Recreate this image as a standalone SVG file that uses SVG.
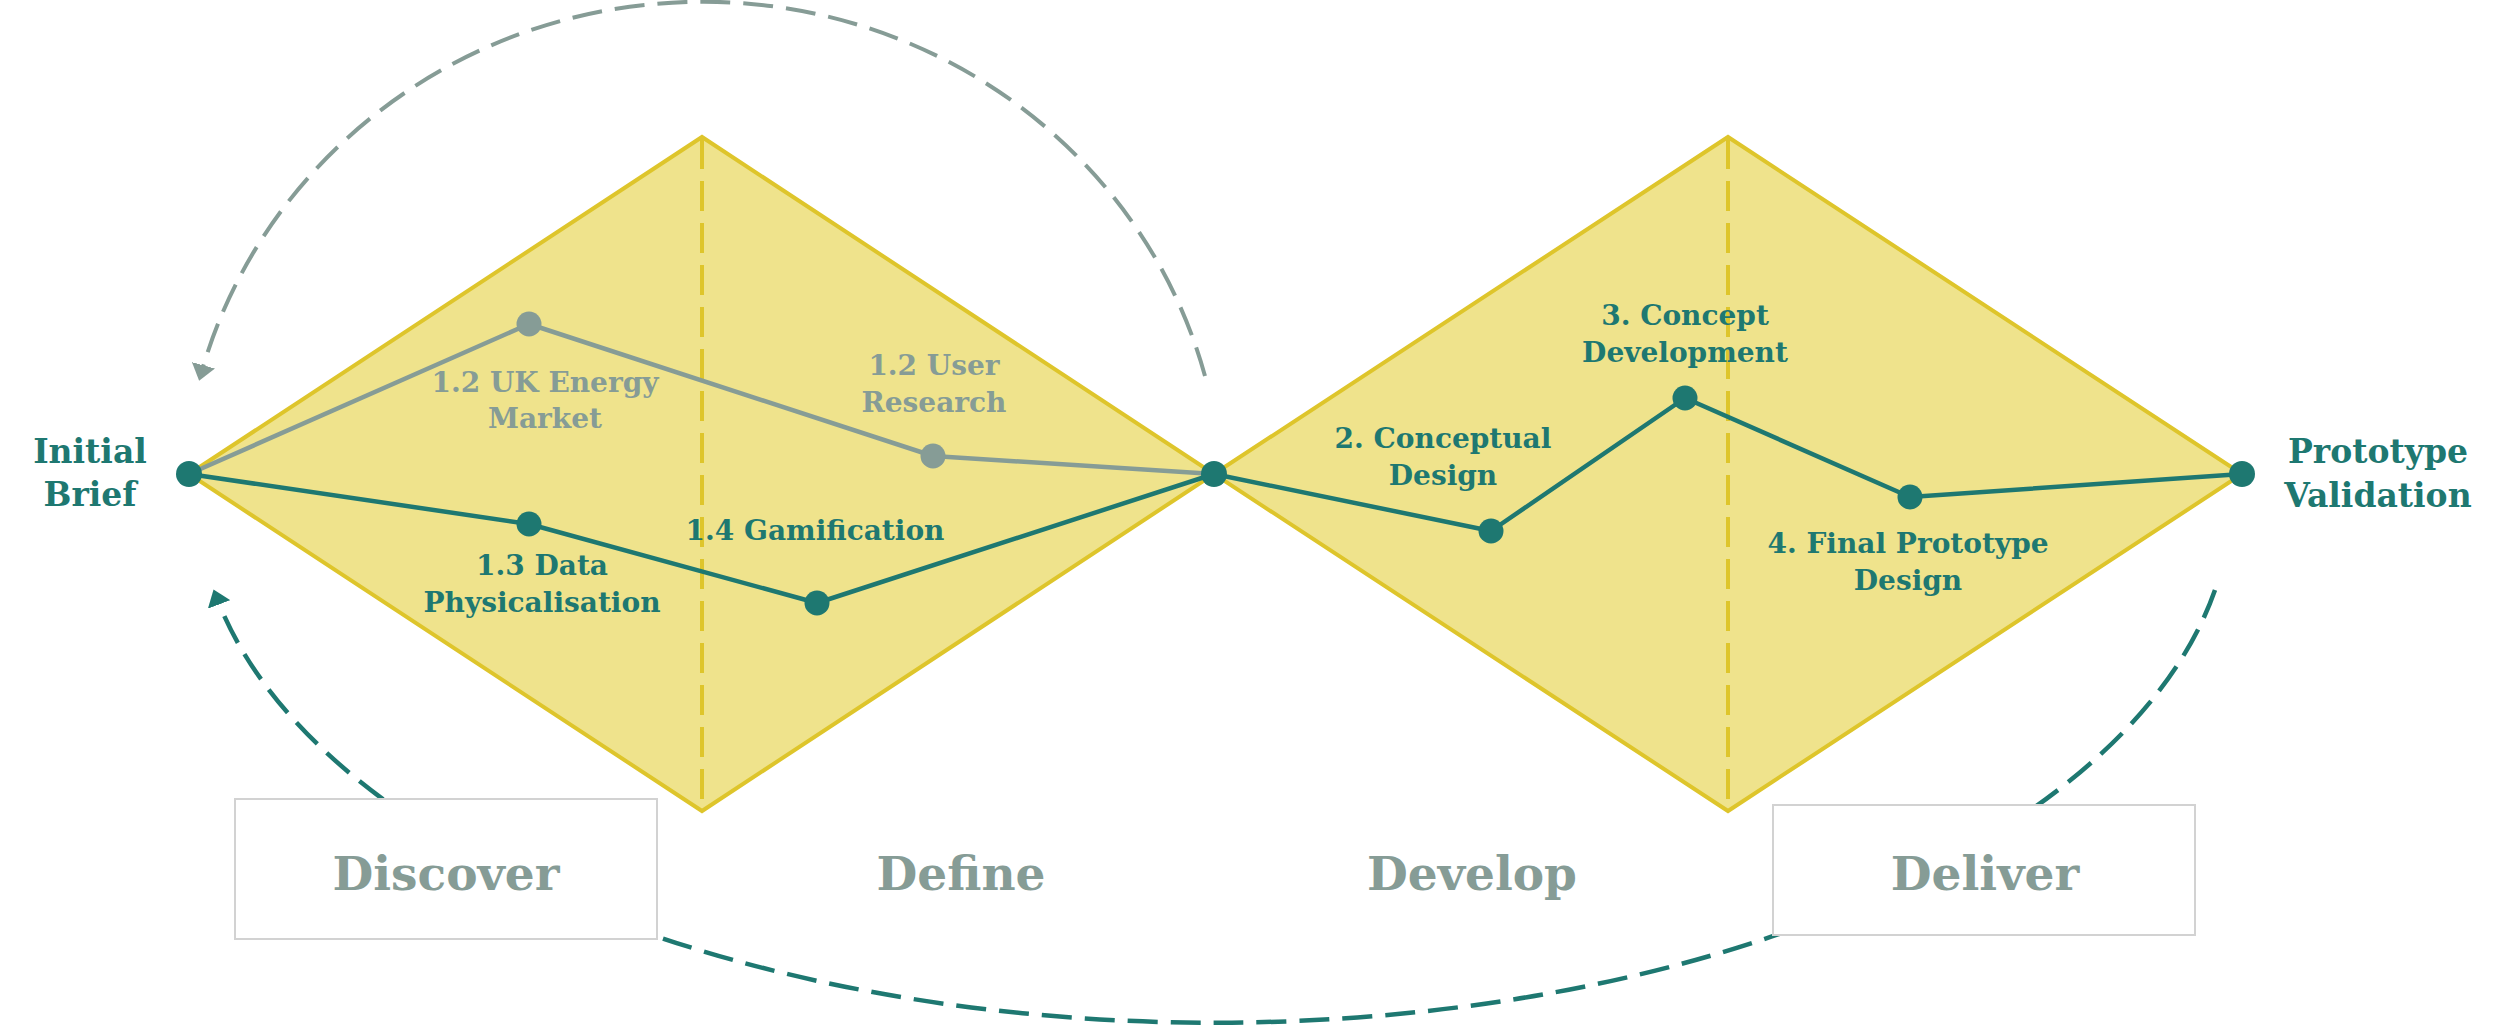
<svg xmlns="http://www.w3.org/2000/svg" width="2500" height="1029" viewBox="0 0 2500 1029">
  <style>
    .diamond { fill: #EFE38C; stroke: #DEC52B; stroke-width: 4; stroke-linejoin: miter; }
    .divider { stroke: #DEC52B; stroke-width: 4; stroke-dasharray: 30 12; fill: none; }
    .teal-line { fill: none; stroke: #1E7871; stroke-width: 4.5; stroke-linejoin: round; }
    .gray-line { fill: none; stroke: #869C96; stroke-width: 4.5; stroke-linejoin: round; }
    .teal-arc { fill: none; stroke: #1E7871; stroke-width: 4.5; stroke-dasharray: 30 13; }
    .gray-arc { fill: none; stroke: #869C96; stroke-width: 4; stroke-dasharray: 30 13; }
    .dot-teal { fill: #1E7871; }
    .dot-gray { fill: #869C96; }
    text { font-family: 'DejaVu Serif', 'Liberation Serif', serif; font-weight: bold; text-anchor: middle; }
    .end { font-size: 33px; fill: #1E7871; }
    .lbl { font-size: 28px; fill: #1E7871; }
    .lbl-gray { font-size: 28px; fill: #869C96; }
    .phase { font-size: 47px; fill: #869C96; }
    .box { fill: #FFFFFF; stroke: #D2D2D2; stroke-width: 2; }
  </style>
  <defs>
    <marker id="arrow-gray" markerUnits="userSpaceOnUse" viewBox="0 0 16 24" markerWidth="16" markerHeight="24" refX="9" refY="12" orient="auto">
      <path d="M0,0 L16,12 L0,24 Z" fill="#869C96"/>
    </marker>
    <marker id="arrow-teal" markerUnits="userSpaceOnUse" viewBox="0 0 16 24" markerWidth="16" markerHeight="24" refX="9" refY="12" orient="auto">
      <path d="M0,0 L16,12 L0,24 Z" fill="#1E7871"/>
    </marker>
  </defs>

  <g id="diamonds">
    <polygon class="diamond" points="189,474 702,137 1214,474 702,811"/>
    <polygon class="diamond" points="1214,474 1728,137 2242,474 1728,811"/>
    <line class="divider" x1="702" y1="139" x2="702" y2="809"/>
    <line class="divider" x1="1728" y1="139" x2="1728" y2="809"/>
  </g>

  <g id="connectors">
    <path class="gray-arc" d="M1205,376 A520,505 0 0 0 201,374" marker-end="url(#arrow-gray)"/>
    <path class="teal-arc" d="M2215,590 A1017,527 0 0 1 216,596" marker-end="url(#arrow-teal)"/>
    <polyline class="gray-line" points="189,474 529,324 933,456 1214,474"/>
    <polyline class="teal-line" points="189,474 529,524 817,603 1214,474 1491,531 1685,398 1910,497 2242,474"/>
  </g>

  <g id="phase-discover">
    <rect class="box" x="235" y="799" width="422" height="140"/>
    <text class="phase" x="446" y="890">Discover</text>
  </g>
  <g id="phase-define">
    <text class="phase" x="961" y="890">Define</text>
  </g>
  <g id="phase-develop">
    <text class="phase" x="1472" y="890">Develop</text>
  </g>
  <g id="phase-deliver">
    <rect class="box" x="1773" y="805" width="422" height="130"/>
    <text class="phase" x="1985" y="890">Deliver</text>
  </g>

  <g id="node-initial-brief">
    <circle class="dot-teal" cx="189" cy="474" r="13"/>
    <text class="end" x="90" y="463">Initial</text>
    <text class="end" x="90" y="506">Brief</text>
  </g>
  <g id="node-uk-energy">
    <circle class="dot-gray" cx="529" cy="324" r="12.5"/>
    <text class="lbl-gray" x="545" y="392">1.2 UK Energy</text>
    <text class="lbl-gray" x="545" y="428">Market</text>
  </g>
  <g id="node-user-research">
    <circle class="dot-gray" cx="933" cy="456" r="12.5"/>
    <text class="lbl-gray" x="934" y="375">1.2 User</text>
    <text class="lbl-gray" x="934" y="412">Research</text>
  </g>
  <g id="node-data-physicalisation">
    <circle class="dot-teal" cx="529" cy="524" r="12.5"/>
    <text class="lbl" x="542" y="575">1.3 Data</text>
    <text class="lbl" x="542" y="612">Physicalisation</text>
  </g>
  <g id="node-gamification">
    <circle class="dot-teal" cx="817" cy="603" r="12.5"/>
    <text class="lbl" x="815" y="540">1.4 Gamification</text>
  </g>
  <g id="node-midpoint">
    <circle class="dot-teal" cx="1214" cy="474" r="13"/>
  </g>
  <g id="node-conceptual-design">
    <circle class="dot-teal" cx="1491" cy="531" r="12.5"/>
    <text class="lbl" x="1443" y="448">2. Conceptual</text>
    <text class="lbl" x="1443" y="485">Design</text>
  </g>
  <g id="node-concept-development">
    <circle class="dot-teal" cx="1685" cy="398" r="12.5"/>
    <text class="lbl" x="1685" y="325">3. Concept</text>
    <text class="lbl" x="1685" y="362">Development</text>
  </g>
  <g id="node-final-prototype">
    <circle class="dot-teal" cx="1910" cy="497" r="12.5"/>
    <text class="lbl" x="1908" y="553">4. Final Prototype</text>
    <text class="lbl" x="1908" y="590">Design</text>
  </g>
  <g id="node-prototype-validation">
    <circle class="dot-teal" cx="2242" cy="474" r="13"/>
    <text class="end" x="2378" y="463">Prototype</text>
    <text class="end" x="2378" y="507">Validation</text>
  </g>
</svg>
